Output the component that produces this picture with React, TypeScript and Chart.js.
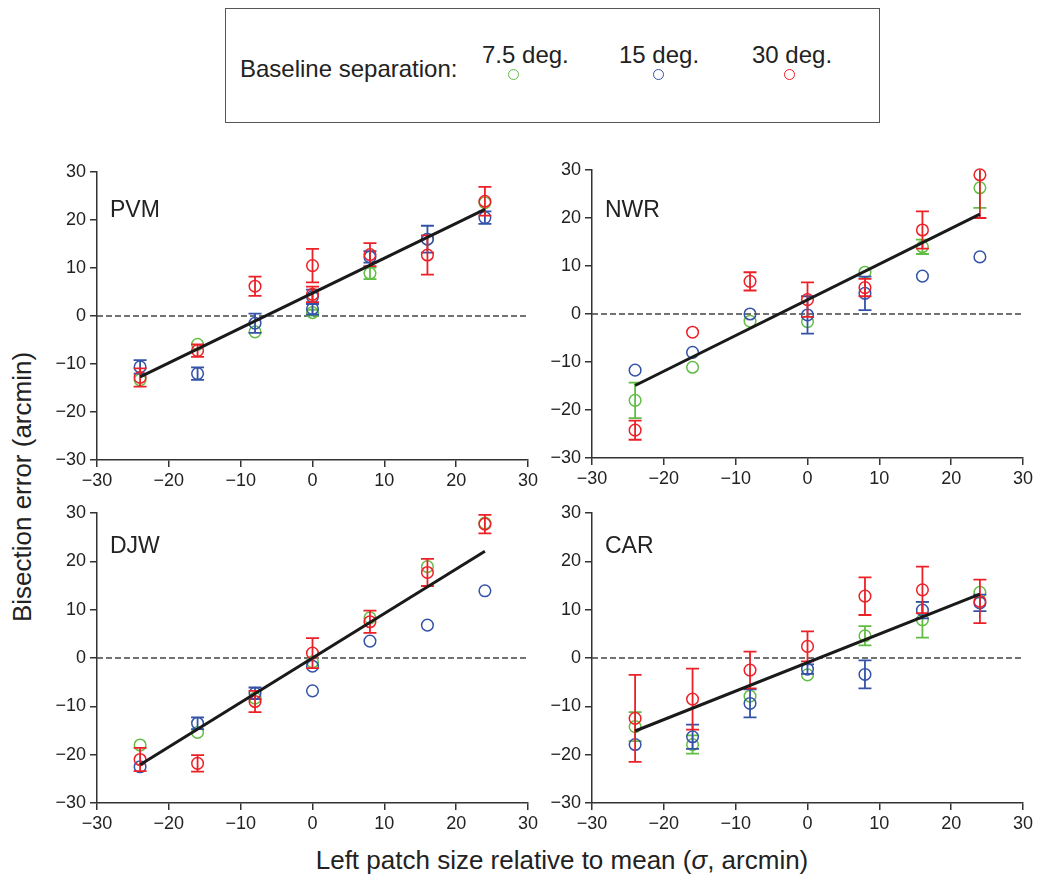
import React, { useEffect, useRef } from "react";
import { Chart, registerables } from "chart.js";

Chart.register(...registerables);

type Pt = [number, number, number]; // x, y, error half-length (0 = none)

const SERIES_LABELS = ["7.5 deg.", "15 deg.", "30 deg."];
const SERIES_COLORS = ["#62bd45", "#3352a8", "#ec2027"];
const AXIS_TICKS = [-30, -20, -10, 0, 10, 20, 30];
const FIT_X = [-24, 24];

// PVM
const PVM_GREEN: Pt[] = [[-24, -13.3, 0], [-16, -5.9, 0], [-8, -3.3, 0], [0, 0.7, 0.6], [8, 8.9, 1.2], [16, 16.0, 0], [24, 23.6, 0]];
const PVM_BLUE: Pt[] = [[-24, -10.6, 1.4], [-16, -12.0, 1.3], [-8, -1.5, 2.0], [0, 4.0, 1.5], [0, 1.5, 1.2], [8, 12.3, 1.2], [16, 16.0, 2.8], [24, 20.5, 1.3]];
const PVM_RED: Pt[] = [[-24, -12.8, 1.9], [-16, -7.2, 1.3], [-8, 6.2, 2.0], [0, 10.5, 3.5], [0, 4.5, 1.6], [8, 12.8, 2.4], [16, 12.7, 4.1], [24, 23.9, 3.0]];
const PVM_FIT = [-12.7, 22.2];

// NWR
const NWR_GREEN: Pt[] = [[-24, -18.0, 3.7], [-16, -11.1, 0], [-8, -1.5, 0], [0, -1.6, 0], [8, 8.7, 0], [16, 14.0, 1.5], [24, 26.3, 4.2]];
const NWR_BLUE: Pt[] = [[-24, -11.7, 0], [-16, -8.0, 0], [-8, 0.0, 0], [0, -0.2, 3.9], [8, 4.3, 3.5], [16, 7.9, 0], [24, 11.9, 0]];
const NWR_RED: Pt[] = [[-24, -24.2, 2.0], [-16, -3.8, 0], [-8, 6.8, 1.9], [0, 3.0, 3.6], [8, 5.5, 1.8], [16, 17.5, 3.9], [24, 29.0, 9.0]];
const NWR_FIT = [-14.9, 20.8];

// DJW
const DJW_GREEN: Pt[] = [[-24, -18.0, 0], [-16, -15.4, 0], [-8, -8.3, 0], [0, -0.8, 0], [8, 8.3, 0], [16, 18.9, 0], [24, 27.9, 0]];
const DJW_BLUE: Pt[] = [[-24, -22.5, 0], [-16, -13.5, 1.2], [-8, -7.3, 1.2], [0, -1.7, 0], [0, -6.8, 0], [8, 3.5, 0], [16, 6.8, 0], [24, 13.9, 0]];
const DJW_RED: Pt[] = [[-24, -21.0, 2.4], [-16, -21.8, 1.7], [-8, -9.0, 2.2], [0, 1.0, 3.1], [8, 7.5, 2.3], [16, 17.7, 2.8], [24, 27.7, 1.9]];
const DJW_FIT = [-22.1, 22.1];

// CAR
const CAR_GREEN: Pt[] = [[-24, -14.2, 3.0], [-16, -17.9, 1.9], [-8, -7.9, 0], [0, -3.5, 0], [8, 4.6, 2.0], [16, 7.9, 3.7], [24, 13.6, 0]];
const CAR_BLUE: Pt[] = [[-24, -17.9, 0], [-16, -16.3, 2.5], [-8, -9.4, 2.9], [0, -2.3, 1.0], [8, -3.4, 2.9], [16, 9.9, 1.7], [24, 11.4, 1.7]];
const CAR_RED: Pt[] = [[-24, -12.5, 9.0], [-16, -8.5, 6.3], [-8, -2.5, 3.8], [0, 2.4, 3.1], [8, 12.8, 3.9], [16, 14.1, 4.8], [24, 11.7, 4.5]];
const CAR_FIT = [-15.1, 13.2];

const FONT = "'Liberation Sans', Arial, Helvetica, sans-serif";

const PANELS = [
  { name: "PVM", series: [PVM_GREEN, PVM_BLUE, PVM_RED], fit: PVM_FIT, area: { left: 97, top: 172, right: 528, bottom: 460 }, labelTop: 197.5, labelLeft: 110 },
  { name: "NWR", series: [NWR_GREEN, NWR_BLUE, NWR_RED], fit: NWR_FIT, area: { left: 592, top: 170, right: 1023, bottom: 458 }, labelTop: 197.5, labelLeft: 605 },
  { name: "DJW", series: [DJW_GREEN, DJW_BLUE, DJW_RED], fit: DJW_FIT, area: { left: 97, top: 513, right: 528, bottom: 803 }, labelTop: 533.5, labelLeft: 110 },
  { name: "CAR", series: [CAR_GREEN, CAR_BLUE, CAR_RED], fit: CAR_FIT, area: { left: 592, top: 513, right: 1023, bottom: 803 }, labelTop: 533.5, labelLeft: 605 },
];

const Y_W = 60;
const X_H = 40;
const PAD_T = 16;
const PAD_R = 26;

const errorBarPlugin = {
  id: "errorBars",
  afterDatasetDraw(chart: any, args: any) {
    const ds: any = chart.data.datasets[args.index];
    if (!ds.errs) return;
    const ctx = chart.ctx;
    const xs = chart.scales.x;
    const ys = chart.scales.y;
    const a = chart.chartArea;
    ctx.save();
    ctx.beginPath();
    ctx.rect(a.left - 10, a.top, a.right - a.left + 20, a.bottom - a.top);
    ctx.clip();
    ctx.strokeStyle = ds.borderColor;
    ctx.lineWidth = 1.8;
    const cap = 6.5;
    ds.data.forEach((p: any, i: number) => {
      const e = ds.errs[i];
      if (!e) return;
      const px = xs.getPixelForValue(p.x);
      const y1 = ys.getPixelForValue(p.y + e);
      const y2 = ys.getPixelForValue(p.y - e);
      ctx.beginPath();
      ctx.moveTo(px, y1);
      ctx.lineTo(px, y2);
      ctx.moveTo(px - cap, y1);
      ctx.lineTo(px + cap, y1);
      ctx.moveTo(px - cap, y2);
      ctx.lineTo(px + cap, y2);
      ctx.stroke();
    });
    ctx.restore();
  },
};

const fmt = (v: any) => (Number(v) < 0 ? "\u2212" + Math.abs(Number(v)) : String(v));

function axisOptions(isX: boolean) {
  return {
    type: "linear",
    min: -30,
    max: 30,
    afterBuildTicks: (s: any) => {
      s.ticks = AXIS_TICKS.map((v) => ({ value: v }));
    },
    afterFit: (s: any) => {
      if (isX) s.height = X_H;
      else s.width = Y_W;
    },
    grid: {
      display: true,
      drawOnChartArea: false,
      drawTicks: true,
      tickLength: 7,
      color: "#333",
      lineWidth: 1.5,
    },
    border: { display: true, color: "#333", width: 1.5 },
    ticks: {
      autoSkip: false,
      maxRotation: 0,
      padding: isX ? 3 : 4,
      color: "#222",
      font: { family: FONT, size: 18 },
      callback: fmt,
    },
  };
}

function Panel({ p }: { p: (typeof PANELS)[number] }) {
  const ref = useRef<HTMLCanvasElement>(null);
  const w = p.area.right - p.area.left + Y_W + PAD_R;
  const h = p.area.bottom - p.area.top + PAD_T + X_H;
  useEffect(() => {
    const seriesSets = p.series.map((pts, si) => ({
      type: "scatter",
      label: SERIES_LABELS[si],
      data: pts.map((q) => ({ x: q[0], y: q[1] })),
      errs: pts.map((q) => q[2]),
      borderColor: SERIES_COLORS[si],
      backgroundColor: "rgba(0,0,0,0)",
      pointRadius: 5.8,
      pointBorderWidth: 1.5,
      pointBackgroundColor: "rgba(0,0,0,0)",
      pointBorderColor: SERIES_COLORS[si],
      showLine: false,
      clip: false,
      order: 3 - si,
    }));
    const chart = new Chart(ref.current as HTMLCanvasElement, {
      type: "scatter",
      data: {
        datasets: [
          {
            type: "line",
            data: [{ x: -30, y: 0 }, { x: 30, y: 0 }],
            borderColor: "#444",
            borderWidth: 1.3,
            borderDash: [6, 3],
            pointRadius: 0,
            order: 10,
          },
          ...seriesSets,
          {
            type: "line",
            data: FIT_X.map((x, i) => ({ x, y: p.fit[i] })),
            borderColor: "#1a1a1a",
            borderWidth: 3,
            pointRadius: 0,
            order: 0,
          },
        ] as any,
      },
      options: {
        responsive: false,
        animation: false,
        events: [],
        layout: { padding: { top: PAD_T, right: PAD_R, left: 0, bottom: 0 } },
        plugins: {
          legend: { display: false },
          tooltip: { enabled: false },
          title: { display: false },
        },
        scales: {
          x: axisOptions(true) as any,
          y: axisOptions(false) as any,
        },
      },
      plugins: [errorBarPlugin],
    } as any);
    return () => chart.destroy();
  }, []);
  return (
    <>
      <canvas
        ref={ref}
        width={w}
        height={h}
        style={{
          position: "absolute",
          left: p.area.left - Y_W,
          top: p.area.top - PAD_T,
          width: w,
          height: h,
        }}
      />
      <div
        style={{
          position: "absolute",
          left: p.labelLeft,
          top: p.labelTop,
          fontSize: 23,
          lineHeight: "23px",
          color: "#222",
          whiteSpace: "nowrap",
        }}
      >
        {p.name}
      </div>
    </>
  );
}

const legendDeg = [
  { left: 482, cx: 513 },
  { left: 619, cx: 658 },
  { left: 752, cx: 789 },
];

export default function App() {
  return (
    <div
      style={{
        position: "absolute",
        left: 0,
        top: 0,
        width: 1038,
        height: 880,
        background: "#fff",
        fontFamily: FONT,
        color: "#222",
        overflow: "hidden",
      }}
    >
      <div
        style={{
          position: "absolute",
          left: 225,
          top: 8,
          width: 655,
          height: 115,
          border: "1.5px solid #555",
          boxSizing: "border-box",
        }}
      />
      <div style={{ position: "absolute", left: 240, top: 56.5, fontSize: 24, lineHeight: "24px", whiteSpace: "nowrap" }}>
        Baseline separation:
      </div>
      {legendDeg.map((d, i) => (
        <React.Fragment key={i}>
          <div style={{ position: "absolute", left: d.left, top: 42.5, fontSize: 24, lineHeight: "24px", whiteSpace: "nowrap" }}>
            {SERIES_LABELS[i]}
          </div>
          <div
            style={{
              position: "absolute",
              left: d.cx - 5.5,
              top: 74 - 5.5,
              width: 11,
              height: 11,
              borderRadius: "50%",
              border: `1.5px solid ${SERIES_COLORS[i]}`,
              boxSizing: "border-box",
            }}
          />
        </React.Fragment>
      ))}
      {PANELS.map((p) => (
        <Panel key={p.name} p={p} />
      ))}
      <div
        style={{
          position: "absolute",
          left: 22 - 200,
          top: 487 - 13,
          width: 400,
          height: 26,
          fontSize: 26,
          lineHeight: "26px",
          textAlign: "center",
          transform: "rotate(-90deg)",
          whiteSpace: "nowrap",
        }}
      >
        Bisection error (arcmin)
      </div>
      <div
        style={{
          position: "absolute",
          left: 562 - 350,
          top: 847,
          width: 700,
          fontSize: 26,
          lineHeight: "26px",
          textAlign: "center",
          whiteSpace: "nowrap",
        }}
      >
        Left patch size relative to mean (<i>σ</i>, arcmin)
      </div>
    </div>
  );
}
